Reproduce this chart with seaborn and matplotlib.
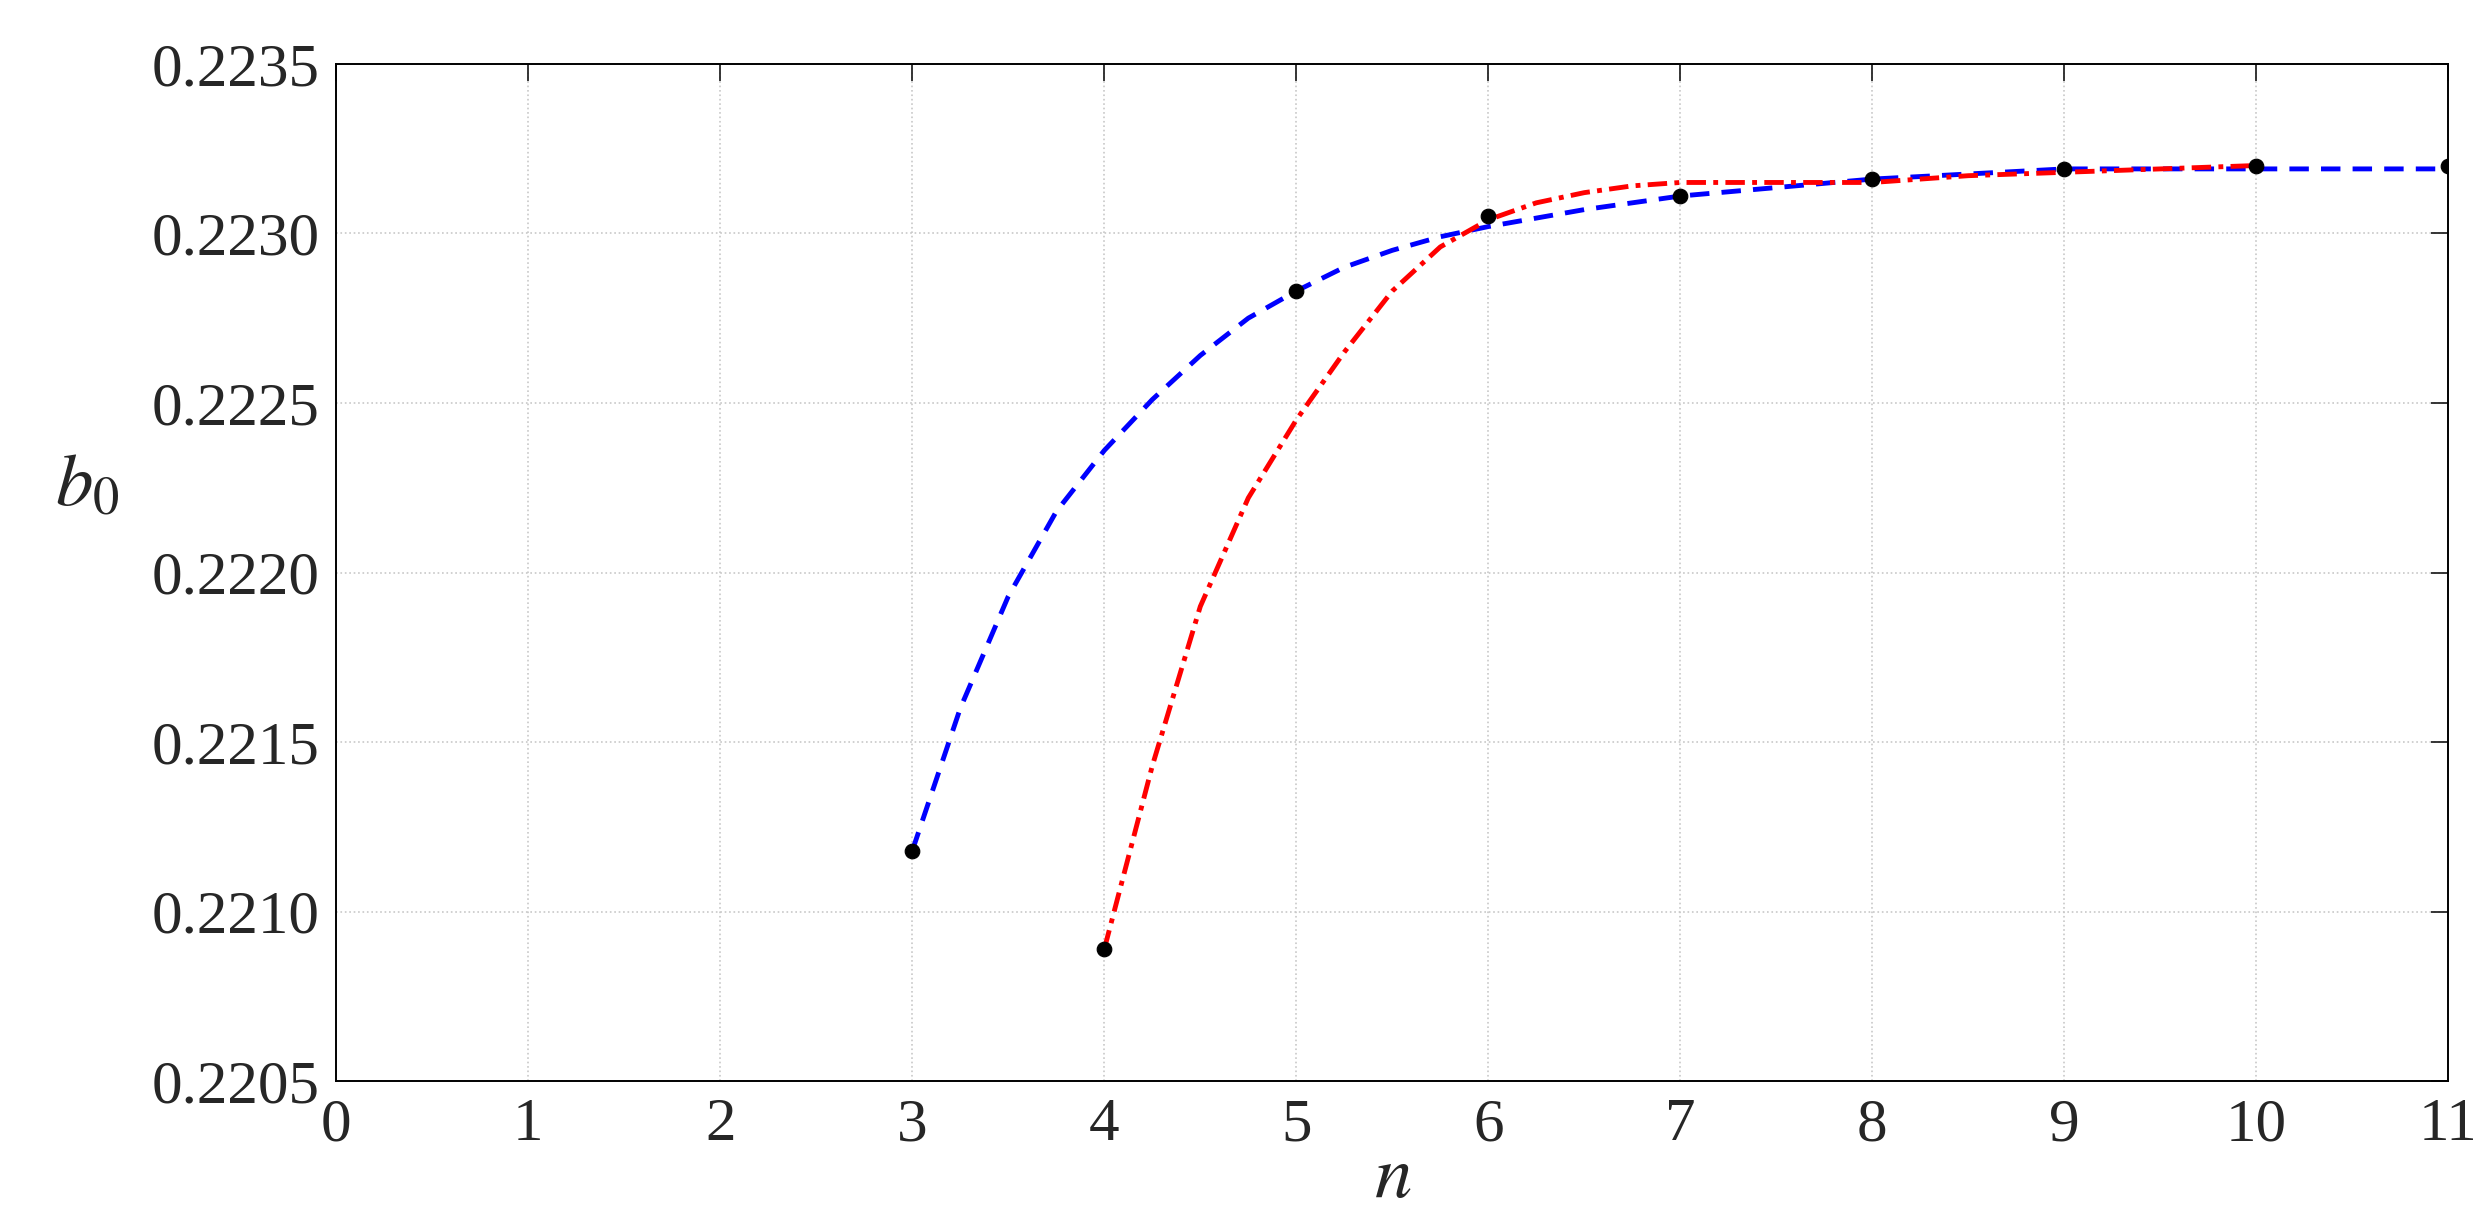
import numpy as np
import pandas as pd
import matplotlib
matplotlib.use("Agg")
import matplotlib.pyplot as plt
import seaborn as sns

n_pts = [3, 4, 5, 6, 7, 8, 9, 10, 11]
b0_pts = [0.22118, 0.22089, 0.22283, 0.22305, 0.22311, 0.22316, 0.22319, 0.22320, 0.22320]

blue_n = [3, 3.25, 3.5, 3.75, 4, 4.25, 4.5, 4.75, 5, 5.25, 5.5, 5.75, 6, 6.5, 7, 8, 9, 10, 11]
blue_b0 = [0.22118, 0.22160, 0.22193, 0.22218, 0.22236, 0.22251, 0.22264, 0.22275,
           0.22283, 0.22290, 0.22295, 0.22299, 0.22302, 0.22307, 0.22311, 0.22316,
           0.22319, 0.22319, 0.22319]

red_n = [4, 4.25, 4.5, 4.75, 5, 5.25, 5.5, 5.75, 6, 6.25, 6.5, 6.75, 7, 7.5, 8, 8.5, 9, 9.5, 10]
red_b0 = [0.22089, 0.22143, 0.22190, 0.22222, 0.22245, 0.22265, 0.22283, 0.22296,
          0.22304, 0.22309, 0.22312, 0.22314, 0.22315, 0.22315, 0.22315, 0.22317,
          0.22318, 0.22319, 0.22320]

sns.set_style("white")
plt.rcParams['font.family'] = ['Liberation Serif', 'DejaVu Serif']
plt.rcParams['mathtext.fontset'] = 'stix'

fig = plt.figure(figsize=(24.73, 12.26), dpi=100)
ax = fig.add_axes([0.136, 0.118, 0.854, 0.83])

sns.lineplot(x=blue_n, y=blue_b0, ax=ax, color='blue', linewidth=3.5)
ax.lines[-1].set_linestyle((0, (4, 2.5)))
sns.lineplot(x=red_n, y=red_b0, ax=ax, color='red', linewidth=3.5)
ax.lines[-1].set_linestyle((0, (4, 1.5, 1, 1.5)))
sns.scatterplot(x=n_pts, y=b0_pts, ax=ax, color='black', s=110, edgecolor='black', zorder=5)

ax.set_xlim(0, 11)
ax.set_ylim(0.2205, 0.2235)
yt = np.arange(0.2205, 0.22351, 0.0005)
ax.set_xticks(range(0, 12))
ax.set_yticks(yt)
ax.set_yticklabels([f"{v:.4f}" for v in yt])
ax.grid(True, linestyle=':', color='#c8c8c8', linewidth=1.2)
ax.tick_params(direction='in', top=True, right=True, length=12, width=1.3,
               labelsize=44, pad=12, labelcolor='#262626')
for s in ax.spines.values():
    s.set_linewidth(1.4)
    s.set_color('black')

ax.set_xlabel('$n$', fontsize=54, labelpad=-6)
ax.set_ylabel('$b_0$', fontsize=54, rotation=0)
ax.yaxis.set_label_coords(-0.118, 0.55)

fig.savefig('out.png', dpi=100)
